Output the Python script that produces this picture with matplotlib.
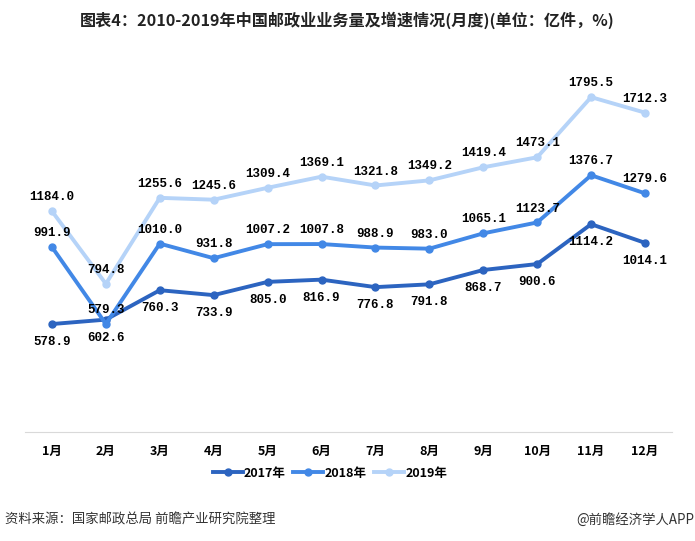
import matplotlib
matplotlib.use('Agg')
import matplotlib.pyplot as plt

plt.rcParams['font.family'] = ['Noto Sans CJK SC', 'DejaVu Sans']

months = ['1月', '2月', '3月', '4月', '5月', '6月', '7月', '8月', '9月', '10月', '11月', '12月']
years = ['2017年', '2018年', '2019年']
v2017 = [578.9, 602.6, 760.3, 733.9, 805.0, 816.9, 776.8, 791.8, 868.7, 900.6, 1114.2, 1014.1]
v2018 = [991.9, 579.3, 1010.0, 931.8, 1007.2, 1007.8, 988.9, 983.0, 1065.1, 1123.7, 1376.7, 1279.6]
v2019 = [1184.0, 794.8, 1255.6, 1245.6, 1309.4, 1369.1, 1321.8, 1349.2, 1419.4, 1473.1, 1795.5, 1712.3]

colors = ['#2C64C0', '#4288E6', '#B5D3F8']

fig = plt.figure(figsize=(6.95, 5.41), dpi=100)
ax = fig.add_axes([25 / 695, 109 / 541, 647 / 695, 373 / 541])

x = list(range(len(months)))
series = [v2017, v2018, v2019]
# 2017 labels go below the points, the others above
offsets = [-13, 10, 10]
for vals, col, name, off in zip(series, colors, years, offsets):
  ax.plot(x, vals, color=col, linewidth=2.8, marker='o', markersize=5,
          label=name, zorder=3)
  for xi, v in zip(x, vals):
    ax.annotate('%.1f' % v, (xi, v), textcoords='offset points',
                xytext=(0, off), ha='center', va='center', zorder=6,
                fontsize=9, fontweight='bold', family='Liberation Mono')

ax.set_xlim(-0.5, 11.5)
ax.set_ylim(0, 2000)
ax.set_xticks(x)
ax.set_xticklabels(months, fontsize=9, fontweight='bold')
ax.tick_params(axis='x', length=0, pad=9)
ax.set_yticks([])
for s in ['top', 'left', 'right']:
  ax.spines[s].set_visible(False)
ax.spines['bottom'].set_color('#d9d9d9')

fig.text(0.5, 1 - 20 / 541, '图表4：2010-2019年中国邮政业业务量及增速情况(月度)(单位：亿件，%)',
         ha='center', va='center', fontsize=11.6, fontweight='bold', color='#222222')

fig.legend(loc='center', bbox_to_anchor=(330 / 695, 1 - 473 / 541), ncol=3,
           frameon=False, handlelength=2.4, columnspacing=0.6,
           handletextpad=0.1, prop={'weight': 'bold', 'size': 9})

fig.text(5 / 695, 1 - 520 / 541, '资料来源：国家邮政总局 前瞻产业研究院整理',
         ha='left', va='center', fontsize=9.6, color='#333333')
fig.text(694 / 695, 1 - 520 / 541, '@前瞻经济学人APP',
         ha='right', va='center', fontsize=9.6, color='#333333')

fig.savefig('out.png', dpi=100)
